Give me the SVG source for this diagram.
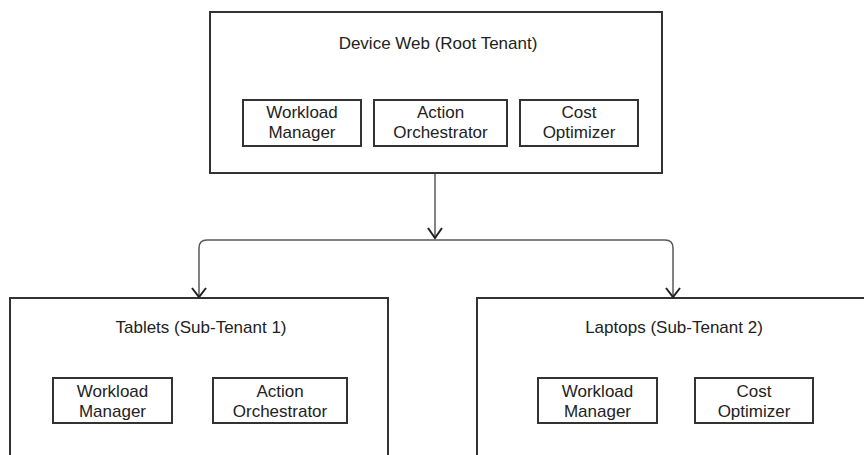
<svg xmlns="http://www.w3.org/2000/svg" width="864" height="455" viewBox="0 0 864 455">
<style>
  .box{fill:#fff;stroke:#333;stroke-width:2}
  .inner{fill:#fff;stroke:#333;stroke-width:2}
  .t{font-family:"Liberation Sans",Arial,sans-serif;font-size:17px;fill:#222;text-anchor:middle}
  .edge{fill:none;stroke:#595959;stroke-width:1.5}
  .head{fill:none;stroke:#222;stroke-width:2;stroke-linejoin:miter}
</style>
<rect width="864" height="455" fill="#fff"/>
<g id="root">
  <rect class="box" x="210" y="12" width="452" height="161"/>
  <text class="t" x="438" y="49">Device Web (Root Tenant)</text>
  <g id="root-wm">
    <rect class="inner" x="243" y="100" width="118" height="46"/>
    <text class="t" x="302" y="118">Workload</text>
    <text class="t" x="302" y="138">Manager</text>
  </g>
  <g id="root-ao">
    <rect class="inner" x="374" y="100" width="133" height="46"/>
    <text class="t" x="440.5" y="118">Action</text>
    <text class="t" x="440.5" y="138">Orchestrator</text>
  </g>
  <g id="root-co">
    <rect class="inner" x="520" y="100" width="118" height="46"/>
    <text class="t" x="579" y="118">Cost</text>
    <text class="t" x="579" y="138">Optimizer</text>
  </g>
</g>
<g id="tablets">
  <rect class="box" x="10" y="298" width="378" height="180"/>
  <text class="t" x="201" y="333">Tablets (Sub-Tenant 1)</text>
  <g id="tab-wm">
    <rect class="inner" x="53" y="378" width="119" height="45"/>
    <text class="t" x="112.5" y="397">Workload</text>
    <text class="t" x="112.5" y="417">Manager</text>
  </g>
  <g id="tab-ao">
    <rect class="inner" x="213" y="378" width="134" height="45"/>
    <text class="t" x="280" y="397">Action</text>
    <text class="t" x="280" y="417">Orchestrator</text>
  </g>
</g>
<g id="laptops">
  <rect class="box" x="477" y="298" width="420" height="180"/>
  <text class="t" x="674" y="333">Laptops (Sub-Tenant 2)</text>
  <g id="lap-wm">
    <rect class="inner" x="538" y="378" width="119" height="45"/>
    <text class="t" x="597.5" y="397">Workload</text>
    <text class="t" x="597.5" y="417">Manager</text>
  </g>
  <g id="lap-co">
    <rect class="inner" x="695" y="378" width="118" height="45"/>
    <text class="t" x="754" y="397">Cost</text>
    <text class="t" x="754" y="417">Optimizer</text>
  </g>
</g>
<g id="connectors">
  <path class="edge" d="M435 174 V237"/>
  <path class="head" d="M428 228 L435 238 L442 228"/>
  <path class="edge" d="M435 240 H207 Q199 240 199 248 V296"/>
  <path class="head" d="M192 288 L199 297 L206 288"/>
  <path class="edge" d="M435 240 H665 Q673 240 673 248 V296"/>
  <path class="head" d="M666 288 L673 297 L680 288"/>
</g>
</svg>
